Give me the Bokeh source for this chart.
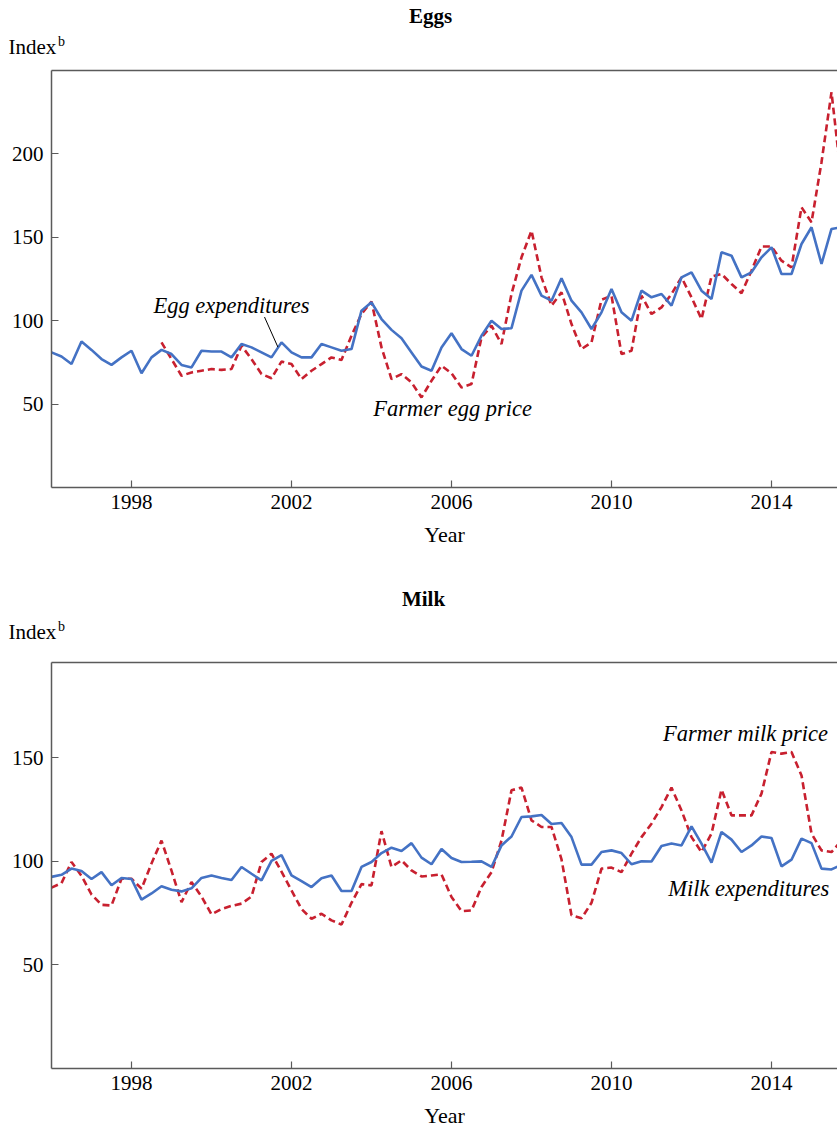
import numpy as np
from bokeh.plotting import figure
from bokeh.models import Range1d, LinearAxis, FixedTicker, Label, Segment, ColumnDataSource
from bokeh.layouts import column
from bokeh.embed import file_html
from bokeh.resources import INLINE

NA = float("nan")
# quarterly index values, 1996Q1 .. 2015Q4
egg_expenditures = [81, 78.5, 74, 87.5, 82.5, 77, 73.5, 78, 82, 68.5,
                    78, 82.5, 80, 73.5, 72, 82, 81.5, 81.5, 78, 86,
                    84, 81, 78, 87, 81, 78, 78, 86, 84, 82,
                    83, 106, 111, 101, 94.5, 89.5, 81, 72.5, 70, 84,
                    92.5, 83, 79, 91, 100, 95, 95.5, 118, 127.5, 115,
                    112, 125.5, 112, 105, 95, 105, 119, 105, 100, 118,
                    114, 116, 109, 126, 129, 118, 113, 141, 139, 126,
                    129, 138, 144, 128, 128, 146, 156, 134, 155, 156]
farmer_egg_price = [NA] * 11 + [87, 77, 67, 69, 70, 71, 70.5, 71, 85,
                    77, 68, 65.5, 75.5, 74, 65, 70, 74, 78, 76.5,
                    91, 104, 111.5, 84, 65, 68, 63, 54, 64, 73,
                    68.5, 60, 62, 90, 97, 86, 116, 138, 154, 126,
                    109, 117, 98, 83, 87, 112.5, 115, 80, 82, 115,
                    104, 108, 116, 126, 114, 101, 126.5, 128, 122, 116.5,
                    130, 144.5, 144.5, 136, 132, 168, 159, 195, 237, 184]
milk_expenditures = [92.5, 93.5, 96.5, 95.3, 91.5, 94.8, 88.5, 92, 91.5, 81.5,
                     84.5, 88, 86.3, 85.5, 87, 92, 93.2, 92, 91, 97.3,
                     94, 90.8, 100.2, 103, 93.2, 90.5, 87.6, 91.8, 93.2, 85.7,
                     85.7, 97.3, 99.7, 104, 106.6, 105, 108.8, 101.8, 98.6, 106,
                     101.6, 99.7, 99.8, 100, 97.3, 107.7, 112, 121.4, 121.7, 122.4,
                     118, 118.5, 111.7, 98.4, 98.4, 104.5, 105.3, 104, 98.6, 100,
                     99.9, 107.4, 108.6, 107.7, 116.9, 108.6, 99.4, 114.2, 110.5, 104.5,
                     107.7, 112, 111.3, 97.6, 100.8, 111, 108.8, 96.5, 96.1, 98.4]
farmer_milk_price = [87.3, 89.5, 99.7, 93, 84, 79, 78.7, 91.6, 91.6, 86.8,
                     99, 110, 95.5, 80.3, 90, 83, 74.4, 77, 78.5, 79.6,
                     83, 99.7, 103.7, 95, 86, 77, 72.3, 74.7, 71.5, 69.5,
                     80, 89, 88.4, 114.6, 97.3, 100.5, 95.6, 92.7, 93.2, 93.7,
                     82.8, 76, 76.3, 87.6, 94.8, 110, 134.3, 135.6, 119.8, 116.6,
                     116.6, 101, 74, 72.5, 80, 96.5, 97, 94.8, 103.7, 111.7,
                     118.2, 126.2, 135.6, 124.6, 111.7, 104.5, 113.4, 134.6, 122.2, 122.2,
                     122.2, 132.7, 152.8, 152, 152.8, 141.5, 113.4, 105.3, 104.5, 110]
quarters = [1996 + i / 4 for i in range(80)]
year_ticks = [1998, 2002, 2006, 2010, 2014]
egg_yticks = [50, 100, 150, 200]
milk_yticks = [50, 100, 150]

FONT = "Liberation Serif"
BLUE = "#4472C4"
RED = "#C8202F"
AXIS = "#5a5a5a"
W = 837


def text(p, x, y, s, size="21px", style="normal", align="center", baseline="middle"):
    p.add_layout(Label(x=x, y=y, text=s, text_font=FONT, text_font_size=size,
                       text_font_style=style, text_align=align, text_baseline=baseline,
                       text_color="black"))


def header(height, title, title_x, title_y, index_y):
    h = figure(width=W, height=height, output_backend="svg", toolbar_location=None,
               x_range=Range1d(0, W), y_range=Range1d(height, 0),
               x_axis_type=None, y_axis_type=None, min_border=0)
    h.frame_align = False
    h.outline_line_color = None
    h.grid.visible = False
    text(h, title_x, title_y, title, style="bold")
    text(h, 8, index_y, "Index", align="left")
    text(h, 57.5, index_y - 5.5, "b", size="14px", align="left")
    return h


def panel(height, border_top, border_bottom, ymax, yticks, exp, price):
    p = figure(width=W, height=height, output_backend="svg", toolbar_location=None,
               x_range=Range1d(1996.0, 2015.65), y_range=Range1d(0, ymax),
               min_border_left=51, min_border_right=0,
               min_border_top=border_top, min_border_bottom=border_bottom)
    p.outline_line_color = None
    p.grid.visible = False
    for ax in (p.xaxis[0], p.yaxis[0]):
        ax.axis_line_color = AXIS
        ax.axis_line_width = 1.5
        ax.major_tick_line_color = AXIS
        ax.major_tick_line_width = 1.2
        ax.major_tick_in = 7
        ax.major_tick_out = 0
        ax.minor_tick_line_color = None
        ax.major_label_text_font = FONT
        ax.major_label_text_font_size = "21px"
        ax.major_label_text_color = "black"
    p.xaxis.ticker = FixedTicker(ticks=year_ticks)
    p.yaxis.ticker = FixedTicker(ticks=yticks)
    p.xaxis.major_label_standoff = 7
    p.yaxis.major_label_standoff = 8
    p.xaxis.axis_label = "Year"
    p.xaxis.axis_label_text_font = FONT
    p.xaxis.axis_label_text_font_size = "22px"
    p.xaxis.axis_label_text_font_style = "normal"
    p.xaxis.axis_label_text_color = "black"
    p.xaxis.axis_label_standoff = 10
    top = LinearAxis(ticker=FixedTicker(ticks=[]), major_label_text_font_size="0px",
                     major_label_standoff=0, axis_line_color=AXIS, axis_line_width=1.5,
                     major_tick_line_color=None, minor_tick_line_color=None)
    p.add_layout(top, "above")
    p.line(quarters, price, line_color=RED, line_width=2.6, line_dash="7 4")
    p.line(quarters, exp, line_color=BLUE, line_width=2.6)
    return p


# ---- Eggs: frame 70..487 px (page), 0..250
h1 = header(60, "Eggs", 430, 15, 46.7)
p1 = panel(500, 10, 73, 250, egg_yticks, egg_expenditures, farmer_egg_price)
text(p1, 2000.5, 109.2, "Egg expenditures", size="22.5px", style="italic")
text(p1, 2006.03, 47.4, "Farmer egg price", size="22.5px", style="italic")
p1.add_glyph(ColumnDataSource(dict(x0=[2001.325], y0=[102.2], x1=[2001.66], y1=[84.2])),
             Segment(x0="x0", y0="y0", x1="x1", y1="y1", line_color="black", line_width=1))

# ---- Milk: frame 662..1068 px (page)
MY = 196
k = MY / 406.0
h2 = header(85, "Milk", 423, 38, 71)
p2 = panel(485, 17, 62, MY, milk_yticks, milk_expenditures, farmer_milk_price)
text(p2, 2013.35, (1068 - 733) * k, "Farmer milk price", size="22.5px", style="italic")
text(p2, 2013.43, (1068 - 888) * k, "Milk expenditures", size="22.5px", style="italic")

layout = column(h1, p1, h2, p2, spacing=0)
open("out.html", "w").write(file_html(layout, INLINE))
